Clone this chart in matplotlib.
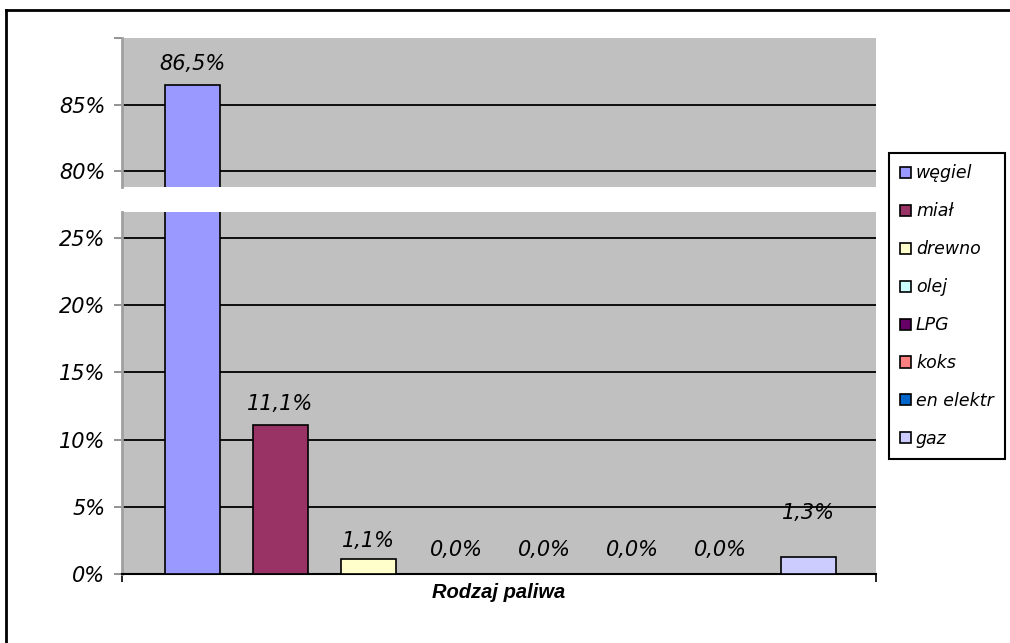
import matplotlib
matplotlib.use("Agg")
import matplotlib.pyplot as plt
from matplotlib.lines import Line2D
import numpy as np

# data
fuels = ["węgiel", "miał", "drewno", "olej", "LPG", "koks", "en elektr", "gaz"]
shares = [86.5, 11.1, 1.1, 0.0, 0.0, 0.0, 0.0, 1.3]
colors = ["#9999FF", "#993366", "#FFFFCC", "#CCFFFF", "#660066", "#FF8080", "#0066CC", "#CCCCFF"]
label_offsets_px = [11, 11, 8, 14, 14, 14, 14, 34]
low_ticks = [0, 5, 10, 15, 20, 25]
high_ticks = [80, 85, 90]
high_ticklabels = ["80%", "85%", ""]

W, H = 1010, 643
fig = plt.figure(figsize=(W / 100, H / 100), dpi=100)
fig.patch.set_facecolor("white")

def px_axes(left, top, right, bottom):
    return fig.add_axes([left / W, 1 - bottom / H, (right - left) / W, (bottom - top) / H])

ax_hi = px_axes(122, 38, 876, 187)
ax_lo = px_axes(122, 212, 876, 574)

x = np.arange(len(fuels))
lab_font = dict(family="DejaVu Sans", style="italic", size=15)

for ax in (ax_hi, ax_lo):
    ax.set_facecolor("#C0C0C0")
    ax.bar(x, shares, width=0.625, color=colors, edgecolor="black", linewidth=1.2, zorder=3)
    ax.set_xlim(-0.801, 7.767)
    for s in ("top", "right"):
        ax.spines[s].set_visible(False)
    ax.spines["left"].set_color("#A0A0A0")
    ax.spines["left"].set_linewidth(2)
    ax.tick_params(axis="y", direction="out", length=6, width=1.2, color="#808080", pad=6)

ax_hi.set_ylim(78.8, 90)
ax_hi.set_yticks(high_ticks)
ax_hi.set_yticklabels(high_ticklabels, **lab_font)
ax_hi.spines["bottom"].set_visible(False)
ax_hi.set_xticks([])
for v in [80, 85]:
    ax_hi.axhline(v, color="black", lw=1.3, zorder=1)

ax_lo.set_ylim(0, 26.93)
ax_lo.set_yticks(low_ticks)
ax_lo.set_yticklabels([f"{v}%" for v in low_ticks], **lab_font)
for v in low_ticks[1:]:
    ax_lo.axhline(v, color="black", lw=1.3, zorder=1)
ax_lo.spines["bottom"].set_color("black")
ax_lo.spines["bottom"].set_linewidth(1.5)
ax_lo.set_xticks(ax_lo.get_xlim())
ax_lo.set_xticklabels([])
ax_lo.tick_params(axis="x", direction="out", length=6, width=1.2, color="black")
ax_lo.set_xlabel("Rodzaj paliwa", family="Liberation Sans", style="italic",
                 weight="bold", size=14.5, labelpad=-3)

# data labels
for i, v in enumerate(shares):
    ax = ax_hi if v > 30 else ax_lo
    ax.annotate(f"{v:.1f}%".replace(".", ","), xy=(x[i], v),
                xytext=(0, label_offsets_px[i] * 0.72), textcoords="offset points",
                ha="center", va="bottom", zorder=5, **lab_font)

# legend
handles = [plt.Rectangle((0, 0), 1, 1, facecolor=c, edgecolor="black", lw=1.2) for c in colors]
leg = fig.legend(handles, fuels, loc="upper left", bbox_to_anchor=(889 / W, 1 - 153 / H),
                 prop=dict(family="DejaVu Sans", style="italic", size=12.5),
                 frameon=True, fancybox=False, edgecolor="black", framealpha=1,
                 handlelength=0.6, handleheight=0.6, handletextpad=0.3,
                 labelspacing=1.15, borderpad=0.65, borderaxespad=0)
leg.get_frame().set_linewidth(1.5)

# outer chart border (top and left only visible)
fig.add_artist(Line2D([6 / W, 1], [1 - 10 / H, 1 - 10 / H], color="black", lw=2))
fig.add_artist(Line2D([6 / W, 6 / W], [0, 1 - 10 / H], color="black", lw=2))

fig.savefig("out.png", dpi=100)
